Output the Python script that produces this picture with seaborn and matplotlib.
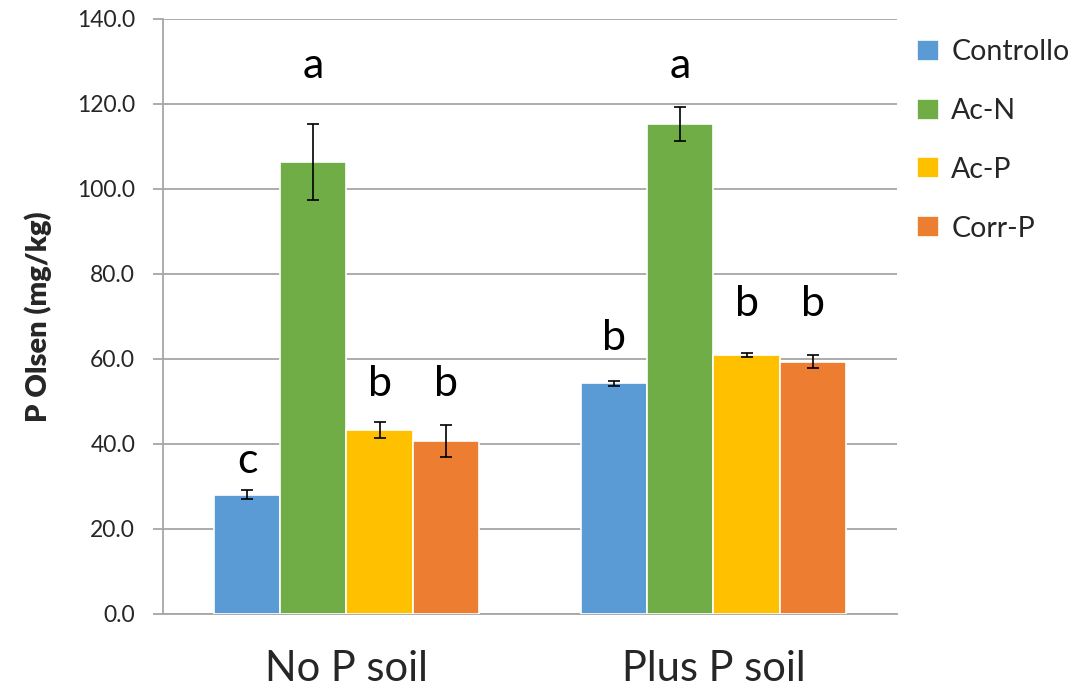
import numpy as np
import pandas as pd
import matplotlib
matplotlib.use("Agg")
import matplotlib.pyplot as plt
import seaborn as sns

# Soil types and treatments
soils = ["No P soil", "Plus P soil"]
treatments = ["Controllo", "Ac-N", "Ac-P", "Corr-P"]

# Mean P Olsen (mg/kg) per treatment, ordered as soils
controllo = [28.1, 54.3]
ac_n = [106.4, 115.3]
ac_p = [43.3, 60.9]
corr_p = [40.7, 59.4]

# Error bar half-widths
controllo_err = [1.0, 0.55]
ac_n_err = [9.0, 4.1]
ac_p_err = [1.8, 0.5]
corr_p_err = [3.8, 1.6]

# Significance letters
controllo_lbl = ["c", "b"]
ac_n_lbl = ["a", "a"]
ac_p_lbl = ["b", "b"]
corr_p_lbl = ["b", "b"]

# Letter heights (data units)
controllo_lbl_y = [36.0, 65.0]
ac_n_lbl_y = [129.0, 129.0]
ac_p_lbl_y = [54.0, 73.0]
corr_p_lbl_y = [54.0, 73.0]

colors = ["#5B9BD5", "#70AD47", "#FFC000", "#ED7D31"]

means = [controllo, ac_n, ac_p, corr_p]
errs = [controllo_err, ac_n_err, ac_p_err, corr_p_err]
labels = [controllo_lbl, ac_n_lbl, ac_p_lbl, corr_p_lbl]
label_ys = [controllo_lbl_y, ac_n_lbl_y, ac_p_lbl_y, corr_p_lbl_y]

rows = []
for t, vals in zip(treatments, means):
    for s, v in zip(soils, vals):
        rows.append({"soil": s, "treatment": t, "value": v})
df = pd.DataFrame(rows)

sns.set_style("white")
plt.rcParams["font.family"] = ["Lato", "DejaVu Sans"]

fig = plt.figure(figsize=(10.76, 6.88), dpi=100)
ax = fig.add_axes([0.1515, 0.1076, 0.6821, 0.8648])

sns.barplot(data=df, x="soil", y="value", hue="treatment", order=soils,
            hue_order=treatments, palette=colors, width=0.722, saturation=1,
            edgecolor="white", linewidth=1.2, errorbar=None, ax=ax, zorder=3)

# Error bars and letters on each bar
for cont, e, lbl, ly in zip(ax.containers, errs, labels, label_ys):
    for bar, err, txt, y in zip(cont, e, lbl, ly):
        xc = bar.get_x() + bar.get_width() / 2
        h = bar.get_height()
        ax.errorbar(xc, h, yerr=err, fmt="none", ecolor="black",
                    elinewidth=1.2, capsize=4.5, capthick=1.2, zorder=4)
        ax.text(xc, y, txt, ha="center", va="center", fontsize=31,
                color="black", zorder=5)

ax.set_ylim(0, 140)
ax.set_xlim(-0.5, 1.5)
ax.set_yticks(np.arange(0, 141, 20))
ax.set_yticklabels([f"{v:.1f}" for v in np.arange(0, 141, 20)], fontsize=16.5)
ax.yaxis.grid(True, color="#A6A6A6", linewidth=1.3, zorder=0)
ax.set_axisbelow(True)

ax.set_xticks([0, 1])
ax.set_xticklabels(soils, fontsize=30)
ax.set_xticks([-0.5, 0.5, 1.5], minor=True)
ax.tick_params(axis="x", which="major", length=0, pad=26)
ax.tick_params(axis="x", which="minor", length=13, width=1.3, color="#A6A6A6")
ax.tick_params(axis="y", which="major", length=7, width=1.3, color="#A6A6A6",
               direction="out", left=True, pad=13)

for side in ["top", "right"]:
    ax.spines[side].set_visible(False)
for side in ["left", "bottom"]:
    ax.spines[side].set_color("#A6A6A6")
    ax.spines[side].set_linewidth(1.3)

ax.set_xlabel("")
ax.set_ylabel("P Olsen (mg/kg)", fontsize=21, fontweight="heavy", labelpad=18)

handles, leg_labels = ax.get_legend_handles_labels()
ax.legend(handles, leg_labels, loc="upper left", bbox_to_anchor=(1.012, 0.985),
          frameon=False, fontsize=20.5, handlelength=0.75, handleheight=0.75,
          handletextpad=0.45, labelspacing=1.15, borderaxespad=0)

fig.savefig("out.png", dpi=100)
